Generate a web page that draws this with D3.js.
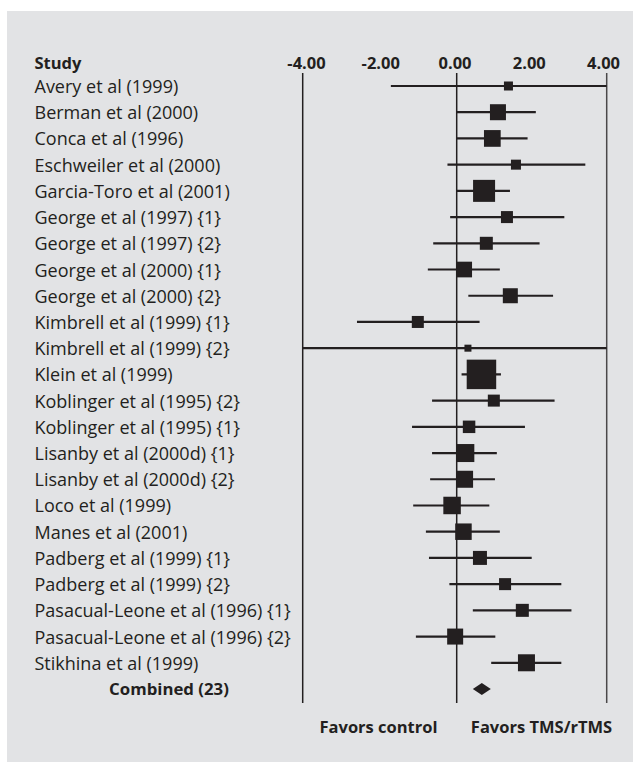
<!DOCTYPE html>
<html>
<head>
<meta charset="utf-8">
<script src="https://cdn.jsdelivr.net/npm/d3@7/dist/d3.min.js"></script>
<style>
  html, body { margin: 0; padding: 0; background: #fff; }
  svg { display: block; }
  text { font-family: "Open Sans", "Noto Sans", sans-serif; fill: #231f20; }
</style>
</head>
<body>
<div id="chart"></div>
<script>
// Forest plot: effect sizes of TMS/rTMS trials with 95% confidence intervals
const studies = [
  "Avery et al (1999)",
  "Berman et al (2000)",
  "Conca et al (1996)",
  "Eschweiler et al (2000)",
  "Garcia-Toro et al (2001)",
  "George et al (1997) {1}",
  "George et al (1997) {2}",
  "George et al (2000) {1}",
  "George et al (2000) {2}",
  "Kimbrell et al (1999) {1}",
  "Kimbrell et al (1999) {2}",
  "Klein et al (1999)",
  "Koblinger et al (1995) {2}",
  "Koblinger et al (1995) {1}",
  "Lisanby et al (2000d) {1}",
  "Lisanby et al (2000d) {2}",
  "Loco et al (1999)",
  "Manes et al (2001)",
  "Padberg et al (1999) {1}",
  "Padberg et al (1999) {2}",
  "Pasacual-Leone et al (1996) {1}",
  "Pasacual-Leone et al (1996) {2}",
  "Stikhina et al (1999)"
];
// point estimates
const effect = [1.38, 1.10, 0.95, 1.58, 0.73, 1.34, 0.79, 0.20, 1.43, -1.01, 0.30, 0.66,
                0.99, 0.33, 0.23, 0.21, -0.12, 0.18, 0.62, 1.29, 1.75, -0.04, 1.86];
// lower confidence limits
const lower = [-1.71, 0.00, 0.00, -0.24, 0.00, -0.17, -0.61, -0.75, 0.31, -2.59, -4.00, 0.13,
               -0.64, -1.16, -0.64, -0.69, -1.13, -0.80, -0.72, -0.19, 0.43, -1.06, 0.92];
// upper confidence limits
const upper = [4.00, 2.11, 1.89, 3.43, 1.42, 2.87, 2.21, 1.15, 2.57, 0.61, 4.00, 1.18,
               2.61, 1.82, 1.07, 1.02, 0.87, 1.15, 2.00, 2.79, 3.06, 1.03, 2.79];
// relative study weights
const weight = [8.1, 25.6, 27.9, 10.0, 48.4, 14.4, 16.9, 24.6, 22.5, 14.4, 4.9, 87.0,
                14.4, 15.6, 32.4, 28.9, 30.6, 27.2, 19.6, 14.4, 16.9, 25.6, 28.9];
// pooled estimate
const combinedLabel = "Combined (23)";
const combined = { est: 0.67, lo: 0.43, hi: 0.91 };
// axis
const tickValues = [-4, -2, 0, 2, 4];
const gridValues = [-4, 0, 4];
const headerLabel = "Study";
const favorLabels = ["Favors control", "Favors TMS/rTMS"];

const W = 633, H = 762;
const ink = "#231f20";

const svg = d3.select("#chart").append("svg")
  .attr("width", W).attr("height", H);

// panel
svg.append("rect")
  .attr("x", 7).attr("y", 11).attr("width", W - 7).attr("height", H - 11)
  .attr("fill", "#e2e3e5");

// effect-size scale
const x = d3.scaleLinear().domain([-4, 0, 4]).range([302.7, 456.7, 606.7]).clamp(true);
// header label positions
const xLab = d3.scaleLinear().domain([-4, 4]).range([306, 603]);

const rows = studies.concat([combinedLabel]);
const y = d3.scalePoint().domain(rows).range([86, 689]);
const size = d3.scaleSqrt().domain([0, d3.max(weight)]).range([0, 29.5]);

const plotTop = 73, plotBottom = 703;

// vertical reference lines
svg.append("g").selectAll("line")
  .data(gridValues).join("line")
  .attr("x1", d => x(d)).attr("x2", d => x(d))
  .attr("y1", plotTop).attr("y2", plotBottom)
  .attr("stroke", d => d === 4 ? "#4a4849" : ink)
  .attr("stroke-width", 1.5);

// header tick labels (plain hyphen for negatives)
const fmt = d3.format(".2f");
const axis = d3.axisTop(xLab).tickValues(tickValues)
  .tickFormat(d => fmt(d).replace("\u2212", "-"))
  .tickSize(0).tickPadding(0);
const gAxis = svg.append("g").attr("transform", "translate(0,69)").call(axis);
gAxis.select(".domain").remove();
gAxis.selectAll("text")
  .attr("dy", 0)
  .style("font-family", '"Open Sans", "Noto Sans", sans-serif')
  .style("font-size", "16.5px").style("font-weight", "bold")
  .attr("fill", ink);

// column header
svg.append("text").attr("x", 34.5).attr("y", 69)
  .style("font-size", "16.5px").style("font-weight", "bold")
  .text(headerLabel);

// study labels
svg.append("g").selectAll("text")
  .data(studies).join("text")
  .attr("x", 34.5).attr("y", d => y(d) + 7)
  .style("font-size", "18px")
  .text(d => d);

// combined label
svg.append("text").attr("x", 169).attr("y", y(combinedLabel) + 6)
  .attr("text-anchor", "middle")
  .style("font-size", "16.8px").style("font-weight", "bold")
  .text(combinedLabel);

const data = studies.map((s, i) => ({ s, est: effect[i], lo: lower[i], hi: upper[i], w: weight[i] }));

// confidence intervals
svg.append("g").selectAll("line")
  .data(data).join("line")
  .attr("x1", d => x(d.lo)).attr("x2", d => x(d.hi))
  .attr("y1", d => y(d.s)).attr("y2", d => y(d.s))
  .attr("stroke", ink).attr("stroke-width", 2.2);

// weighted squares
svg.append("g").selectAll("rect")
  .data(data).join("rect")
  .attr("x", d => x(d.est) - size(d.w) / 2)
  .attr("y", d => y(d.s) - size(d.w) / 2)
  .attr("width", d => size(d.w)).attr("height", d => size(d.w))
  .attr("fill", ink);

// pooled diamond
const cy = y(combinedLabel);
svg.append("path")
  .attr("d", `M${x(combined.lo)},${cy} L${x(combined.est)},${cy - 6} L${x(combined.hi)},${cy} L${x(combined.est)},${cy + 6} Z`)
  .attr("fill", ink);

// favour annotations
svg.append("g").selectAll("text")
  .data(favorLabels).join("text")
  .attr("x", (d, i) => i === 0 ? 378.5 : 541.5).attr("y", 733)
  .attr("text-anchor", "middle")
  .style("font-size", "16.5px").style("font-weight", "bold")
  .text(d => d);
</script>
</body>
</html>
